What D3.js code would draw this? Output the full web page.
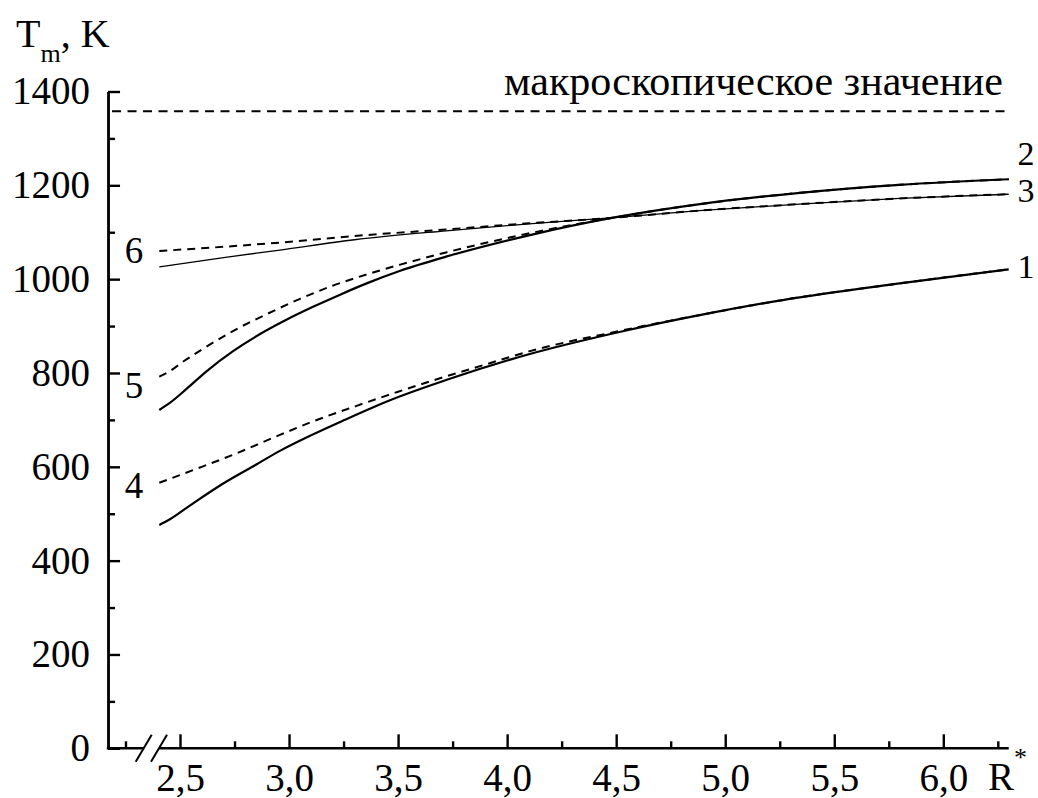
<!DOCTYPE html>
<html>
<head>
<meta charset="utf-8">
<script src="https://cdn.jsdelivr.net/npm/d3@7"></script>
<style>
  html, body { margin: 0; padding: 0; background: #fff; }
  svg { display: block; }
</style>
</head>
<body>
<svg id="chart" width="1038" height="798"></svg>
<script>
// Melting temperature T_m versus reduced radius R*
const xTicksMajor = [2.5, 3.0, 3.5, 4.0, 4.5, 5.0, 5.5, 6.0];
const xTicksMinor = [2.25, 2.75, 3.25, 3.75, 4.25, 4.75, 5.25, 5.75, 6.25];
const yTicksMajor = [0, 200, 400, 600, 800, 1000, 1200, 1400];
const yTicksMinor = [100, 300, 500, 700, 900, 1100, 1300];

const macroValue = 1358;
const macroLabel = "макроскопическое значение";

// curve 1 (solid)
const r1 = [2.405, 2.45, 2.55, 2.7, 2.85, 2.958, 3.1, 3.25, 3.463, 3.72, 4.1, 4.52, 4.9, 5.27, 5.8, 6.3];
const t1 = [476, 487, 519, 565, 605, 634, 667, 699, 742, 785, 840, 888, 925, 956, 991, 1021];
// curve 4 (dashed)
const r4 = [2.405, 2.6, 2.75, 2.958, 3.1, 3.31, 3.5, 3.646, 3.9, 4.1, 4.52, 4.9, 5.27, 5.8, 6.3];
const t4 = [566, 600, 627, 668, 695, 730, 760, 782, 818, 846, 890, 925, 956, 991, 1021];
// curve 2 (solid)
const r2 = [2.405, 2.45, 2.53, 2.62, 2.745, 2.867, 2.99, 3.11, 3.234, 3.356, 3.51, 3.72, 4.105, 4.486, 4.884, 5.343, 5.8, 6.3];
const t2 = [721, 735, 766, 803, 847, 883, 914, 941, 967, 991, 1018, 1048, 1094, 1131, 1160, 1184, 1201, 1213];
// curve 5 (dashed)
const r5 = [2.405, 2.45, 2.52, 2.6, 2.745, 2.9, 3.05, 3.2, 3.356, 3.51, 3.72, 4.105, 4.486, 4.884, 5.343, 5.8, 6.3];
const t5 = [792, 803, 826, 850, 890, 926, 958, 986, 1010, 1031, 1057, 1098, 1131, 1160, 1184, 1201, 1213];
// curve 3 (thin solid)
const r3 = [2.405, 2.7, 2.958, 3.3, 3.72, 4.1, 4.49, 4.88, 5.34, 5.8, 6.3];
const t3 = [1026, 1046, 1062, 1084, 1103, 1118, 1131, 1146, 1160, 1172, 1181];
// curve 6 (dashed)
const r6 = [2.405, 2.7, 2.958, 3.3, 3.72, 4.1, 4.49, 4.88, 5.34, 5.8, 6.3];
const t6 = [1060, 1069, 1078, 1092, 1106, 1119, 1131, 1146, 1160, 1172, 1181];

const curveNames = ["1", "2", "3", "4", "5", "6"];

const SERIF = "'Liberation Serif', 'Times New Roman', Times, serif";

const svg = d3.select("#chart");
svg.append("rect").attr("width", 1038).attr("height", 798).attr("fill", "#fff");

const x = d3.scaleLinear().domain([2.5, 6.0]).range([180, 943.3]);
const y = d3.scaleLinear().domain([0, 1400]).range([748.3, 91.5]);
const xMin = 2.17, xMax = 6.3;

const comma = d3.formatLocale({decimal: ",", thousands: " ", grouping: [3], currency: ["", ""]});
const fmtX = comma.format(".1f");

const axisW = 2.4;

function serifText(sel, size) {
  sel.style("font-family", SERIF).style("font-size", size + "px").style("fill", "#000");
}

// y axis: inward ticks, labels on the left
const gy = svg.append("g").attr("transform", `translate(${x(xMin)},0)`);
gy.call(d3.axisLeft(y).tickValues(yTicksMajor).tickSize(-12).tickSizeOuter(0).tickPadding(18).tickFormat(d3.format("d")));
gy.append("g").call(d3.axisLeft(y).tickValues(yTicksMinor).tickSize(-7).tickSizeOuter(0).tickFormat(""));
gy.selectAll(".domain").attr("stroke-width", axisW).attr("stroke", "#000");
gy.selectAll(".tick line").attr("stroke-width", axisW).attr("stroke", "#000");
serifText(gy.selectAll(".tick text"), 39);

// x axis: inward ticks, labels below; line drawn separately to show the break
const gx = svg.append("g").attr("transform", `translate(0,${y(0)})`);
gx.call(d3.axisBottom(x).tickValues(xTicksMajor).tickSize(-14).tickSizeOuter(0).tickPadding(15).tickFormat(fmtX));
gx.append("g").call(d3.axisBottom(x).tickValues(xTicksMinor).tickSize(-7).tickSizeOuter(0).tickFormat(""));
gx.selectAll(".domain").remove();
gx.selectAll(".tick line").attr("stroke-width", axisW).attr("stroke", "#000");
serifText(gx.selectAll(".tick text"), 39);

const y0 = y(0);
const breakA = 143.7, breakB = 159;
svg.append("path")
  .attr("d", `M${x(xMin) - axisW / 2},${y0}H${breakA}M${breakB},${y0}H${x(xMax)}`)
  .attr("stroke", "#000").attr("stroke-width", axisW).attr("fill", "none");
[breakA, breakB].forEach(bx => {
  svg.append("line")
    .attr("x1", bx - 8).attr("y1", y0 + 13.5)
    .attr("x2", bx + 8).attr("y2", y0 - 13.5)
    .attr("stroke", "#000").attr("stroke-width", 2);
});

// macroscopic reference level
svg.append("line")
  .attr("x1", x(xMin) + 4).attr("x2", x(xMax) - 3)
  .attr("y1", y(macroValue)).attr("y2", y(macroValue))
  .attr("stroke", "#000").attr("stroke-width", 2).attr("stroke-dasharray", "9,6.5");
svg.append("text")
  .attr("x", 1003).attr("y", 95)
  .attr("text-anchor", "end")
  .call(serifText, 42)
  .text(macroLabel);

// curves
const line = d3.line().x(d => x(d[0])).y(d => y(d[1])).curve(d3.curveMonotoneX);
const zip = (r, t) => r.map((v, i) => [v, t[i]]);
const series = [
  {r: r1, t: t1, w: 2.2, dash: null},
  {r: r2, t: t2, w: 2.2, dash: null},
  {r: r3, t: t3, w: 1.3, dash: null},
  {r: r4, t: t4, w: 2.0, dash: "8,6"},
  {r: r5, t: t5, w: 2.0, dash: "8,6"},
  {r: r6, t: t6, w: 2.0, dash: "8,6"}
];
series.forEach(s => {
  svg.append("path")
    .attr("d", line(zip(s.r, s.t)))
    .attr("fill", "none").attr("stroke", "#000")
    .attr("stroke-width", s.w)
    .attr("stroke-dasharray", s.dash);
});

// curve numbers
const labelsLeft = [
  {name: curveNames[5], v: t6[0], dy: 12},
  {name: curveNames[4], v: t5[0], dy: 21},
  {name: curveNames[3], v: t4[0], dy: 15}
];
labelsLeft.forEach(l => {
  svg.append("text").attr("x", 134).attr("y", y(l.v) + l.dy)
    .attr("text-anchor", "middle").call(serifText, 37).text(l.name);
});
const labelsRight = [
  {name: curveNames[1], v: t2[t2.length - 1], dy: -14},
  {name: curveNames[2], v: t3[t3.length - 1], dy: 8},
  {name: curveNames[0], v: t1[t1.length - 1], dy: 9}
];
labelsRight.forEach(l => {
  svg.append("text").attr("x", 1026).attr("y", y(l.v) + l.dy)
    .attr("text-anchor", "middle").call(serifText, 34).text(l.name);
});

// axis titles
const ty = svg.append("text").attr("x", 16).attr("y", 47).call(serifText, 40);
ty.append("tspan").text("T");
ty.append("tspan").style("font-size", "26px").attr("dy", 15).text("m");
ty.append("tspan").attr("dy", -15).text(", K");

const tx = svg.append("text").attr("x", 988).attr("y", 790).call(serifText, 39);
tx.append("tspan").text("R");
tx.append("tspan").style("font-size", "26px").attr("dy", -24).text("*");
</script>
</body>
</html>
